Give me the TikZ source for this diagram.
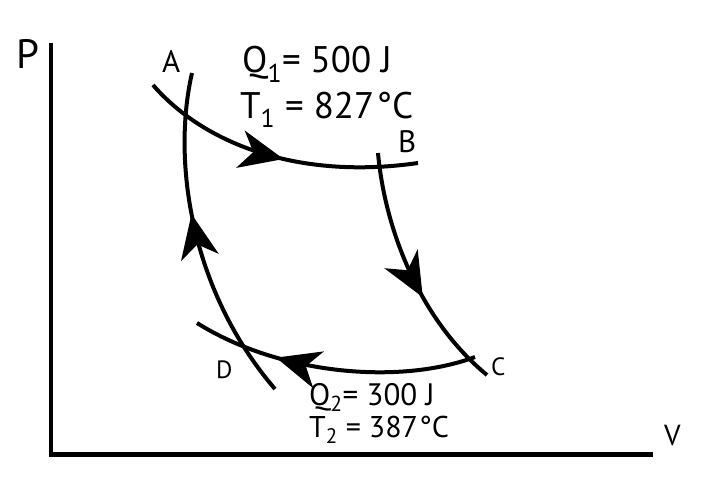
\documentclass[tikz,border=0pt]{standalone}
\usepackage{fontspec}
\setmainfont{PT Sans}
\usetikzlibrary{arrows.meta,decorations.markings}

\tikzset{
  curve/.style={line width=4pt},
  flowmark/.style={postaction={decorate},
    decoration={markings, mark=at position #1 with {\arrow{Stealth[length=44pt,width=38pt,inset=13pt]}}}},
  lbl/.style={anchor=base west, inner sep=0pt, font=\fontsize{#1}{#1}\selectfont},
}

\begin{document}
\begin{tikzpicture}[x=1pt, y=-1pt]
\useasboundingbox (0,0) rectangle (706,487);

% axes
\coordinate (top) at (51,43);
\coordinate (org) at (51,454.5);
\coordinate (right) at (653,454.5);
\draw[line width=4.6pt] (top) -- (org) -- (right);
\node[lbl=41] (P) at (16,68) {P};
\node[lbl=29] (V) at (664,445) {V};

% end points of the four curves
\coordinate (ab1) at (153,85);  \coordinate (ab2) at (418,163);
\coordinate (bc1) at (378,153); \coordinate (bc2) at (487,375);
\coordinate (cd1) at (475,357); \coordinate (cd2) at (197,323);
\coordinate (da1) at (275,389); \coordinate (da2) at (192,73);

\draw[curve, flowmark=0.53] (ab1) .. controls (205,145) and (300,180) .. (ab2);
\draw[curve, flowmark=0.6] (bc1) .. controls (385,230) and (420,320) .. (bc2);
\draw[curve, flowmark=0.7] (cd1) .. controls (400,385) and (280,375) .. (cd2);
\draw[curve, flowmark=0.58] (da1) .. controls (190,290) and (172,160) .. (da2);

\node[lbl=31] (A) at (162,73) {A};
\node[lbl=31] (B) at (398,152) {B};
\node[lbl=25] (C) at (491,375) {C};
\node[lbl=25] (D) at (216,378) {D};

\node[lbl=37] (Q1) at (242,73) {Q\textsubscript{1}= 500 J};
\node[lbl=37] (T1) at (240,118) {T\textsubscript{1} = 827\kern2pt°C};
\node[lbl=31] (Q2) at (309,405) {Q\textsubscript{2}= 300 J};
\node[lbl=30] (T2) at (309,437) {T\textsubscript{2} = 387\kern1pt°C};
\end{tikzpicture}
\end{document}
